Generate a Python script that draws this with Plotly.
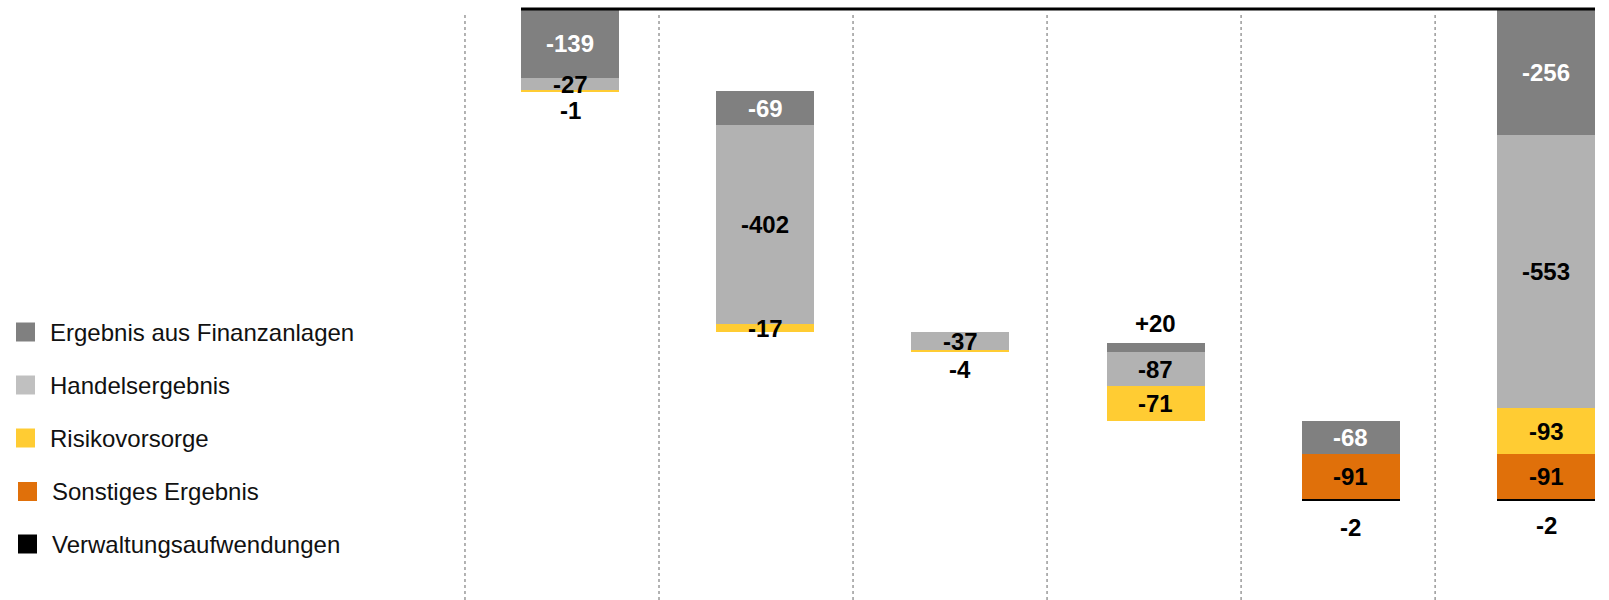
import plotly.graph_objects as go

# Ergebnisbeiträge je Schritt (Mio. EUR); letzte Spalte = Summe
steps = [0, 1, 2, 3, 4, 5]
finanzanlagen = [-139, -69, 0, 20, -68, -256]
handel = [-27, -402, -37, -87, 0, -553]
risiko = [-1, -17, -4, -71, 0, -93]
sonstiges = [0, 0, 0, 0, -91, -91]
verwaltung = [0, 0, 0, 0, -2, -2]
total_step = 5

names = ["Ergebnis aus Finanzanlagen", "Handelsergebnis", "Risikovorsorge",
         "Sonstiges Ergebnis", "Verwaltungsaufwendungen"]
series = [finanzanlagen, handel, risiko, sonstiges, verwaltung]
bar_colors = ["#808080", "#b2b2b2", "#ffcc33", "#e0700a", "#000000"]
legend_colors = ["#808080", "#c0c0c0", "#ffcc33", "#e0700a", "#000000"]
text_colors = ["white", "black", "black", "black", "black"]

# waterfall: each step starts where the previous one ended; the total starts at 0
bases = [[0] * len(steps) for _ in series]
col_start = []
level = 0
for j in range(len(steps)):
    start = 0 if j == total_step else level
    col_start.append(start)
    cur = start
    for i, s in enumerate(series):
        bases[i][j] = cur
        cur += s[j]
    if j != total_step:
        level = cur
col_end = [col_start[j] + sum(s[j] for s in series) for j in range(len(steps))]

BAR_W = 0.502
fig = go.Figure()

# dotted column separators
separators = [-0.538, 0.456, 1.450, 2.444, 3.438, 4.432]
for xs in separators:
    fig.add_shape(type="line", xref="x", yref="paper", x0=xs, x1=xs,
                  y0=0, y1=0.98, line=dict(color="#9a9a9a", width=1.5, dash="dot"),
                  layer="below")

# draw the first series last so it sits on top where segments overlap
order = [1, 2, 3, 4, 0]
for i in order:
    fig.add_trace(go.Bar(
        x=steps, y=series[i], base=bases[i], name=names[i], width=BAR_W,
        marker=dict(color=bar_colors[i], line=dict(width=0)),
        showlegend=False, hoverinfo="skip"))

# top reference line
fig.add_shape(type="line", xref="x", yref="y", x0=-BAR_W / 2, x1=total_step + BAR_W / 2,
              y0=0, y1=0, line=dict(color="black", width=3))

# value labels
outside_shift = {(2, 0): -19, (2, 2): -17, (4, 4): -27, (4, 5): -25}
above_shift = 19
LBL_FONT = dict(family="Liberation Sans, Arial, sans-serif", size=24)
for i, s in enumerate(series):
    for j, v in enumerate(s):
        if v == 0:
            continue
        txt = f"+{v}" if v > 0 else f"{v}"
        b = bases[i][j]
        if v > 0:
            y, shift, col = b + v, above_shift, "black"
        elif (i, j) in outside_shift:
            y, shift, col = col_end[j], outside_shift[(i, j)], "black"
        else:
            top = min(b, col_start[j])
            y, shift, col = (top + b + v) / 2, 0, text_colors[i]
        fig.add_annotation(x=j, y=y, yshift=shift, text=f"<b>{txt}</b>", showarrow=False,
                           xanchor="center", yanchor="middle",
                           font=dict(color=col, **LBL_FONT))

# legend on the left
H = 600
leg_y = [332, 385, 438, 491.5, 544]
leg_x = [16, 16, 16, 18, 18]
for i, name in enumerate(names):
    yc = 1 - leg_y[i] / H
    fig.add_shape(type="rect", xref="paper", yref="paper",
                  x0=leg_x[i] / 1609, x1=(leg_x[i] + 19) / 1609,
                  y0=yc - 9.5 / H, y1=yc + 9.5 / H,
                  fillcolor=legend_colors[i], line=dict(width=0))
    fig.add_annotation(xref="paper", yref="paper", x=(leg_x[i] + 32) / 1609, y=yc,
                       text=name, showarrow=False, xanchor="left", yanchor="middle",
                       font=dict(family="Liberation Sans, Arial, sans-serif", size=24,
                                 color="#111111"))

PX_X = 195.2
PX_Y = 0.4935
fig.update_layout(
    width=1609, height=600,
    margin=dict(l=0, r=0, t=0, b=0),
    paper_bgcolor="white", plot_bgcolor="white",
    barmode="overlay", bargap=0,
    showlegend=False,
    xaxis=dict(range=[-570 / PX_X, (1609 - 570) / PX_X], visible=False, fixedrange=True),
    yaxis=dict(range=[-(600 - 9) / PX_Y, 9 / PX_Y], visible=False, fixedrange=True),
)

fig.write_html("out.html")
